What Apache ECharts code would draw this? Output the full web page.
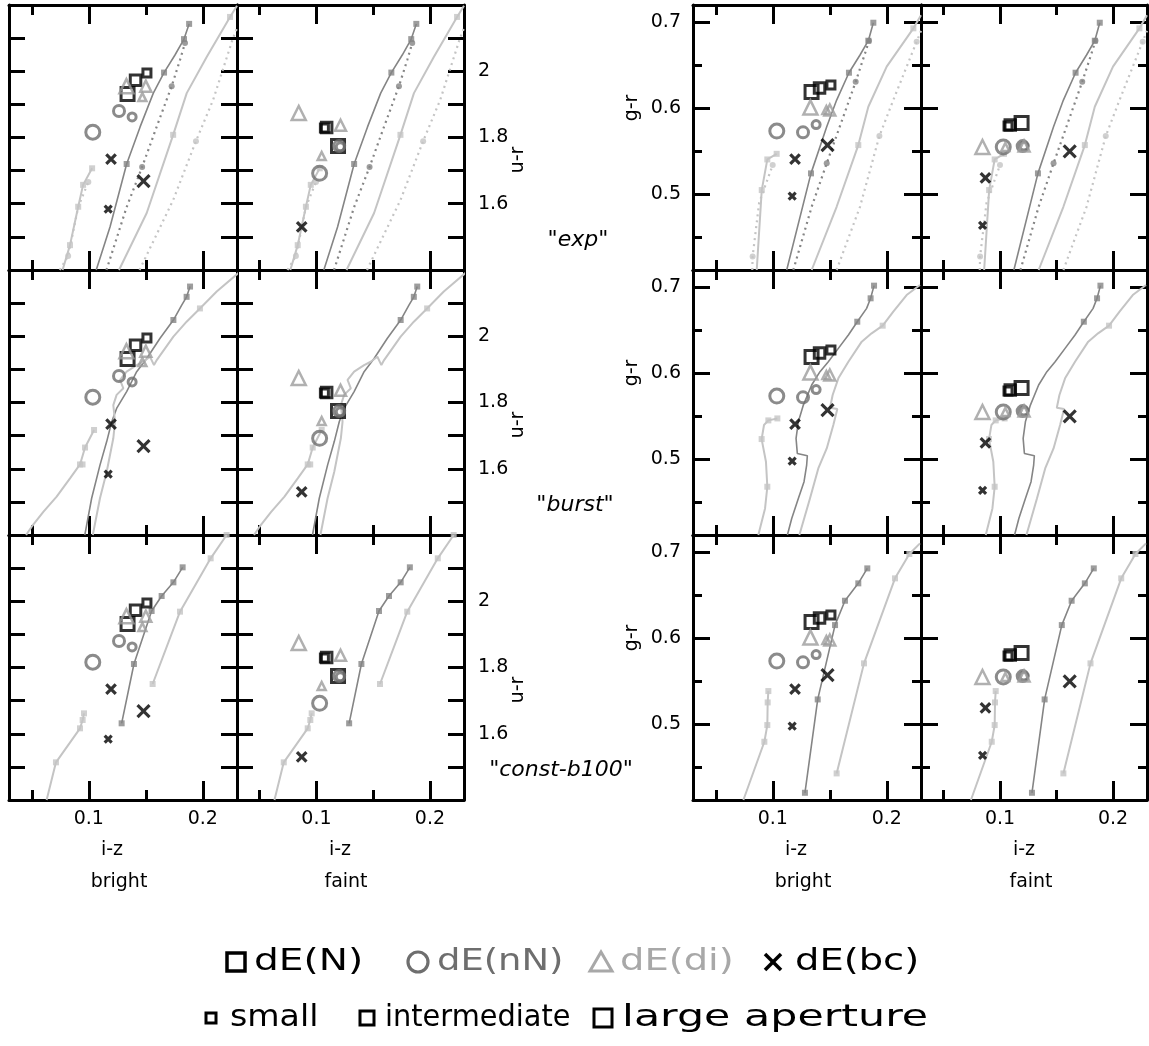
<!DOCTYPE html>
<html><head><meta charset="utf-8">
<script src="https://cdn.jsdelivr.net/npm/echarts@6/dist/echarts.min.js"></script>
<style>html,body{margin:0;padding:0;background:#fff}#c{width:1149px;height:1046px}</style>
</head><body><div id="c"></div>
<script>
// ---------- axes / labels ----------
const xRange = [0.03, 0.23];
const urRange = [1.4, 2.2];
const grRange = [0.412, 0.72];
const xTickMajor = [0.1, 0.2];
const xTickMinor = [0.05, 0.15];
const urTicks = [1.5, 1.6, 1.7, 1.8, 1.9, 2.0, 2.1];
const urLabels = [1.6, 1.8, 2.0];
const grTickMajor = [0.5, 0.6, 0.7];
const grTickMinor = [0.45, 0.55, 0.65];
const modelNames = ['"exp"', '"burst"', '"const-b100"'];
const sampleNames = ['bright', 'faint', 'bright', 'faint'];
const legendGroups = ['dE(N)', 'dE(nN)', 'dE(di)', 'dE(bc)'];
const apertureNames = ['small', 'intermediate', 'large aperture'];

// ---------- galaxies (order: small, intermediate, large aperture) ----------
const brightN_iz = [0.151, 0.141, 0.134];
const brightN_ur = [1.995, 1.973, 1.931];
const brightN_gr = [0.627, 0.6235, 0.619];
const brightNN_iz = [0.138, 0.1265, 0.1035];
const brightNN_ur = [1.862, 1.880, 1.816];
const brightNN_gr = [0.581, 0.572, 0.5735];
const brightDI_iz = [0.147, 0.150, 0.133];
const brightDI_ur = [1.922, 1.955, 1.955];
const brightDI_gr = [0.598, 0.598, 0.601];
const brightBC_iz = [0.117, 0.1195, 0.148];
const brightBC_ur = [1.584, 1.735, 1.668];
const brightBC_gr = [0.498, 0.541, 0.557];

const faintN_iz = [0.107, 0.109, 0.119];
const faintN_ur = [1.829, 1.830, 1.774];
const faintN_gr = [0.5795, 0.5805, 0.5828];
const faintNN_iz = [0.121, 0.120, 0.1028];
const faintNN_ur = [1.772, 1.774, 1.692];
const faintNN_gr = [0.556, 0.556, 0.555];
const faintDI_iz = [0.1046, 0.1212, 0.0844];
const faintDI_ur = [1.744, 1.837, 1.874];
const faintDI_gr = [0.555, 0.556, 0.555];
const faintBC_iz = [0.0845, 0.087, 0.1616];
const faintBC_ur = [null, 1.53, null];
const faintBC_gr = [0.464, 0.519, 0.550];

// ---------- model tracks: "exp" ----------
const expUR_DS = [[0.1065,1.40],[0.1186,1.530],[0.1332,1.720],[0.145,1.832],[0.1566,1.934],[0.166,1.996],[0.1756,2.049],[0.1835,2.097],[0.188,2.143]];
const expUR_DSm = [[0.1332,1.720],[0.166,1.996],[0.1835,2.097],[0.188,2.143]];
const expUR_DD = [[0.1155,1.40],[0.1332,1.590],[0.1468,1.711],[0.1595,1.832],[0.1727,1.955],[0.18,2.034],[0.1844,2.085]];
const expUR_DDm = [[0.1468,1.711],[0.1727,1.955],[0.1844,2.085]];
const expUR_LS = [[0.1265,1.40],[0.1508,1.572],[0.174,1.808],[0.1859,1.934],[0.2034,2.043],[0.2239,2.164],[0.23,2.198]];
const expUR_LSm = [[0.174,1.808],[0.2239,2.164]];
const expUR_LD = [[0.1445,1.40],[0.174,1.611],[0.194,1.789],[0.209,1.913],[0.2265,2.10],[0.23,2.13]];
const expUR_LDm = [[0.194,1.789]];
const expUR_LL = [[0.077,1.40],[0.0835,1.475],[0.0907,1.591],[0.095,1.657],[0.1029,1.707]];
const expUR_LLm = [[0.0835,1.475],[0.0907,1.591],[0.095,1.657],[0.1029,1.707]];
const expUR_LLD = [[0.0745,1.40],[0.0819,1.442],[0.0907,1.59],[0.0996,1.666]];
const expUR_LLDm = [[0.0819,1.442],[0.0996,1.666]];

const expGR_DS = [[0.1122,0.412],[0.1335,0.5243],[0.1473,0.5785],[0.156,0.6095],[0.1668,0.6413],[0.1765,0.6619],[0.1838,0.6785],[0.1882,0.6994]];
const expGR_DSm = [[0.1335,0.5243],[0.1668,0.6413],[0.1838,0.6785],[0.1882,0.6994]];
const expGR_DD = [[0.118,0.412],[0.1341,0.4855],[0.1473,0.536],[0.1618,0.590],[0.1727,0.6308],[0.1809,0.6638],[0.1844,0.6785]];
const expGR_DDm = [[0.1473,0.536],[0.1727,0.6308],[0.1844,0.6785]];
const expGR_LS = [[0.1341,0.412],[0.156,0.4855],[0.175,0.5572],[0.1838,0.6017],[0.1999,0.6483],[0.2233,0.6929],[0.23,0.708]];
const expGR_LSm = [[0.175,0.5572],[0.2233,0.6929]];
const expGR_LD = [[0.156,0.412],[0.1765,0.4855],[0.1935,0.5677],[0.2057,0.6095],[0.2262,0.6774],[0.23,0.69]];
const expGR_LDm = [[0.1935,0.5677],[0.2262,0.6774]];
const expGR_LL = [[0.0859,0.412],[0.0903,0.5049],[0.0952,0.5405],[0.1034,0.547]];
const expGR_LLm = [[0.0903,0.5049],[0.0952,0.5405],[0.1034,0.547]];
const expGR_LLD = [[0.082,0.412],[0.0823,0.4277],[0.088,0.49],[0.0999,0.534]];
const expGR_LLDm = [[0.0823,0.4277],[0.0999,0.534]];

// ---------- model tracks: "burst" ----------
const burstUR_DS = [[0.0965,1.40],[0.1025,1.511],[0.1098,1.611],[0.1157,1.682],[0.1201,1.742],[0.1244,1.782],[0.1332,1.833],[0.142,1.893],[0.1508,1.933],[0.1625,1.994],[0.1742,2.049],[0.1815,2.094],[0.1858,2.119],[0.1888,2.150]];
const burstUR_DSm = [[0.1742,2.049],[0.1858,2.119],[0.1888,2.150]];
const burstUR_LS = [[0.1035,1.40],[0.1098,1.511],[0.1157,1.591],[0.1215,1.692],[0.123,1.742],[0.1215,1.792],[0.1244,1.823],[0.1303,1.843],[0.1274,1.868],[0.1332,1.893],[0.142,1.913],[0.1478,1.923],[0.1537,1.938],[0.1572,1.913],[0.1596,1.928],[0.1742,1.999],[0.1858,2.044],[0.1975,2.084],[0.2122,2.135],[0.2326,2.195]];
const burstUR_LSm = [[0.1975,2.084]];
const burstUR_LL = [[0.045,1.40],[0.0499,1.425],[0.0601,1.47],[0.0718,1.516],[0.0835,1.571],[0.0923,1.613],[0.0967,1.664],[0.1046,1.717]];
const burstUR_LLm = [[0.0923,1.613],[0.0945,1.613],[0.0967,1.664],[0.1046,1.717]];

const burstGR_DS = [[0.1128,0.412],[0.1166,0.4312],[0.1224,0.4545],[0.1274,0.4739],[0.1297,0.4933],[0.1303,0.5041],[0.1215,0.5068],[0.1204,0.5243],[0.1224,0.5436],[0.1268,0.563],[0.1341,0.5863],[0.1414,0.6018],[0.1487,0.6134],[0.1575,0.6289],[0.1663,0.6444],[0.1741,0.6599],[0.1823,0.6754],[0.1858,0.6871],[0.1888,0.7018]];
const burstGR_DSm = [[0.1741,0.6599],[0.1858,0.6871],[0.1888,0.7018]];
const burstGR_LS = [[0.1233,0.412],[0.1326,0.4545],[0.1399,0.4894],[0.1473,0.5126],[0.1531,0.5398],[0.1566,0.5584],[0.1502,0.5599],[0.1525,0.5747],[0.1575,0.5941],[0.1663,0.6134],[0.178,0.6367],[0.1867,0.6464],[0.1964,0.6553],[0.2057,0.6716],[0.2174,0.6909],[0.2291,0.7026]];
const burstGR_LSm = [[0.1964,0.6553]];
const burstGR_LL = [[0.0873,0.412],[0.0932,0.4429],[0.0952,0.4681],[0.094,0.4971],[0.0902,0.5235],[0.0923,0.5398],[0.0961,0.5452],[0.104,0.5475]];
const burstGR_LLm = [[0.0952,0.4681],[0.0902,0.5235],[0.0961,0.5452],[0.104,0.5475]];

// ---------- model tracks: "const-b100" ----------
const constUR_DS = [[0.1288,1.6315],[0.1396,1.8106],[0.1551,1.9706],[0.1639,2.0158],[0.1742,2.0571],[0.1823,2.1024]];
const constUR_DSm = [[0.1288,1.6315],[0.1396,1.8106],[0.1551,1.9706],[0.1639,2.0158],[0.1742,2.0571],[0.1823,2.1024]];
const constUR_LS = [[0.156,1.7502],[0.18,1.9686],[0.2069,2.1296],[0.2209,2.2]];
const constUR_LSm = [[0.156,1.7502],[0.18,1.9686],[0.2069,2.1296],[0.2209,2.2]];
const constUR_LL = [[0.063,1.40],[0.0712,1.5137],[0.0923,1.6164],[0.0946,1.6415],[0.0958,1.6616]];
const constUR_LLm = [[0.0712,1.5137],[0.0923,1.6164],[0.0946,1.6415],[0.0958,1.6616]];

const constGR_DS = [[0.1282,0.4204],[0.1394,0.5289],[0.1546,0.6153],[0.1633,0.6436],[0.175,0.6638],[0.1829,0.6812]];
const constGR_DSm = [[0.1282,0.4204],[0.1394,0.5289],[0.1546,0.6153],[0.1633,0.6436],[0.175,0.6638],[0.1829,0.6812]];
const constGR_LS = [[0.156,0.4429],[0.18,0.5708],[0.2072,0.6696],[0.2198,0.6979],[0.2291,0.7103]];
const constGR_LSm = [[0.156,0.4429],[0.18,0.5708],[0.2072,0.6696],[0.2198,0.6979]];
const constGR_LL = [[0.0742,0.412],[0.0926,0.4797],[0.0952,0.4991],[0.0955,0.5254],[0.0961,0.5386]];
const constGR_LLm = [[0.0926,0.4797],[0.0952,0.4991],[0.0955,0.5254],[0.0961,0.5386]];

// ---------- build ----------
const FONT = 'DejaVu Sans';
const tracks = {
  ur: [
    [[expUR_DS,expUR_DSm,'dS'],[expUR_DD,expUR_DDm,'dD'],[expUR_LS,expUR_LSm,'lS'],[expUR_LD,expUR_LDm,'lD'],[expUR_LL,expUR_LLm,'lS'],[expUR_LLD,expUR_LLDm,'lD']],
    [[burstUR_DS,burstUR_DSm,'dS'],[burstUR_LS,burstUR_LSm,'lS'],[burstUR_LL,burstUR_LLm,'lS']],
    [[constUR_DS,constUR_DSm,'dS'],[constUR_LS,constUR_LSm,'lS'],[constUR_LL,constUR_LLm,'lS']]
  ],
  gr: [
    [[expGR_DS,expGR_DSm,'dS'],[expGR_DD,expGR_DDm,'dD'],[expGR_LS,expGR_LSm,'lS'],[expGR_LD,expGR_LDm,'lD'],[expGR_LL,expGR_LLm,'lS'],[expGR_LLD,expGR_LLDm,'lD']],
    [[burstGR_DS,burstGR_DSm,'dS'],[burstGR_LS,burstGR_LSm,'lS'],[burstGR_LL,burstGR_LLm,'lS']],
    [[constGR_DS,constGR_DSm,'dS'],[constGR_LS,constGR_LSm,'lS'],[constGR_LL,constGR_LLm,'lS']]
  ]
};
const trackStyle = {
  dS: {color:'#858585', width:1.6, type:'solid', mark:'rect'},
  dD: {color:'#858585', width:2.2, type:[2,4], mark:'circle'},
  lS: {color:'#c4c4c4', width:2, type:'solid', mark:'rect'},
  lD: {color:'#c4c4c4', width:2.2, type:[2,4], mark:'circle'}
};
const CROSS = 'path://M0,0L10,10M10,0L0,10';
const groups = [
  {iz:[brightN_iz,faintN_iz], ur:[brightN_ur,faintN_ur], gr:[brightN_gr,faintN_gr], symbol:'rect', color:'#000', sizes:[8,10.5,13], bw:3},
  {iz:[brightNN_iz,faintNN_iz], ur:[brightNN_ur,faintNN_ur], gr:[brightNN_gr,faintNN_gr], symbol:'circle', color:'#6e6e6e', sizes:[8,11,14], bw:3},
  {iz:[brightDI_iz,faintDI_iz], ur:[brightDI_ur,faintDI_ur], gr:[brightDI_gr,faintDI_gr], symbol:'triangle', color:'#9c9c9c', sizes:[8,11,14], bw:2.5},
  {iz:[brightBC_iz,faintBC_iz], ur:[brightBC_ur,faintBC_ur], gr:[brightBC_gr,faintBC_gr], symbol:CROSS, color:'#000', sizes:[7,9.5,12], bw:3.2}
];

const colLeft = [9, 237, 693, 921];
const colW = [228, 227, 228, 226];
const rowTop = [5, 270, 535];
const H = 265;

const grids = [], xAxes = [], yAxes = [], series = [];
const tickStyle = {color:'#000', width:3};
const lineOn = {show:true, onZero:false, lineStyle:{color:'#000', width:3}};
const lineOff = {show:false, onZero:false};
const fmt = v => String(+(+v).toFixed(2));

for (let r = 0; r < 3; r++) {
  for (let c = 0; c < 4; c++) {
    const g = grids.length;
    grids.push({left: colLeft[c], top: rowTop[r], width: colW[c], height: H, containLabel:false});
    const base = {gridIndex:g, type:'value', min:xRange[0], max:xRange[1], splitLine:{show:false}, axisPointer:{show:false}};
    const xMain = xAxes.length;
    xAxes.push({...base, position:'bottom', axisLine:lineOn,
      axisTick:{show:true, inside:true, length:19, customValues:xTickMajor, lineStyle:tickStyle},
      axisLabel:{show: r === 2, customValues:xTickMajor, formatter:fmt, fontSize:19, fontFamily:FONT, color:'#000', margin:10}});
    xAxes.push({...base, position:'bottom', axisLine:lineOff,
      axisTick:{show:true, inside:true, length:10, customValues:xTickMinor, lineStyle:tickStyle}, axisLabel:{show:false}});
    xAxes.push({...base, position:'top', axisLine:lineOn,
      axisTick:{show:true, inside:true, length:19, customValues:xTickMajor, lineStyle:tickStyle}, axisLabel:{show:false}});
    xAxes.push({...base, position:'top', axisLine:lineOff,
      axisTick:{show:true, inside:true, length:10, customValues:xTickMinor, lineStyle:tickStyle}, axisLabel:{show:false}});

    const isUR = c < 2;
    const yr = isUR ? urRange : grRange;
    const yb = {gridIndex:g, type:'value', min:yr[0], max:yr[1], splitLine:{show:false}, axisPointer:{show:false}};
    const yMain = yAxes.length;
    if (isUR) {
      yAxes.push({...yb, position:'left', axisLine:lineOn,
        axisTick:{show:true, inside:true, length:16, customValues:urTicks, lineStyle:tickStyle}, axisLabel:{show:false}});
      yAxes.push({...yb, position:'right', axisLine:lineOn,
        axisTick:{show:true, inside:true, length:16, customValues:urTicks, lineStyle:tickStyle},
        axisLabel:{show: c === 1, customValues:urLabels, formatter:fmt, fontSize:19, fontFamily:FONT, color:'#000', margin:14}});
    } else {
      yAxes.push({...yb, position:'left', axisLine:lineOn,
        axisTick:{show:true, inside:true, length:17, customValues:grTickMajor, lineStyle:tickStyle},
        axisLabel:{show: c === 2, customValues:grTickMajor, formatter:fmt, fontSize:19, fontFamily:FONT, color:'#000', margin:12}});
      yAxes.push({...yb, position:'left', axisLine:lineOff,
        axisTick:{show:true, inside:true, length:9, customValues:grTickMinor, lineStyle:tickStyle}, axisLabel:{show:false}});
      yAxes.push({...yb, position:'right', axisLine:lineOn,
        axisTick:{show:true, inside:true, length:17, customValues:grTickMajor, lineStyle:tickStyle}, axisLabel:{show:false}});
      yAxes.push({...yb, position:'right', axisLine:lineOff,
        axisTick:{show:true, inside:true, length:9, customValues:grTickMinor, lineStyle:tickStyle}, axisLabel:{show:false}});
    }

    // model tracks
    const tk = tracks[isUR ? 'ur' : 'gr'][r];
    tk.forEach(([ln, mk, sk]) => {
      const st = trackStyle[sk];
      series.push({type:'line', xAxisIndex:xMain, yAxisIndex:yMain, data:ln, showSymbol:false, symbol:'none',
        lineStyle:{color:st.color, width:st.width, type:st.type}, z:2, silent:true, animation:false, clip:true});
      series.push({type:'scatter', xAxisIndex:xMain, yAxisIndex:yMain, data:mk, symbol:st.mark, symbolSize:6,
        itemStyle:{color:st.color}, z:3, silent:true, animation:false, clip:true});
    });

    // galaxies
    const bf = c % 2;
    groups.forEach((gr, gi) => {
      const xs = gr.iz[bf], ys = (isUR ? gr.ur : gr.gr)[bf];
      const data = [];
      xs.forEach((x, i) => { if (ys[i] != null) data.push({value:[x, ys[i]], symbolSize: gr.sizes[i]}); });
      series.push({type:'scatter', xAxisIndex:xMain, yAxisIndex:yMain, data, symbol:gr.symbol,
        itemStyle:{color:'rgba(0,0,0,0)', borderColor:gr.color, borderWidth:gr.bw},
        z:5 + gi, silent:true, animation:false, clip:true});
    });
  }
}

// ---------- text & legend ----------
function txt(text, x, y, opt) {
  opt = opt || {};
  return {type:'text', x, y, rotation: opt.rot || 0, scaleX: opt.sx || 1, z: 50,
    style:{text, font: opt.font || ('19px ' + FONT), fill: opt.fill || '#000',
      align: opt.align || 'center', verticalAlign:'middle', textAlign: opt.align || 'center', textVerticalAlign:'middle'}};
}
const graphic = [];
const izX = [112, 340, 796, 1024];
const sampX = [119, 346, 803, 1031];
for (let c = 0; c < 4; c++) {
  graphic.push(txt('i-z', izX[c], 850));
  graphic.push(txt(sampleNames[c], sampX[c], 882));
}
const modelY = [240, 505, 770];
const modelX = [578, 575, 561];
for (let r = 0; r < 3; r++) {
  graphic.push(txt('u-r', 518, rowTop[r] + 155, {rot: Math.PI / 2}));
  graphic.push(txt('g-r', 632, rowTop[r] + 103, {rot: Math.PI / 2}));
  graphic.push(txt(modelNames[r], modelX[r], modelY[r], {font: 'italic 22px ' + FONT}));
}
// legend row 1
const LF = '31px ' + FONT;
graphic.push({type:'rect', shape:{x:227, y:953, width:18, height:18}, style:{fill:'none', stroke:'#000', lineWidth:3.5}, z:50});
graphic.push(txt(legendGroups[0], 254, 962, {font:LF, align:'left', sx:1.26}));
graphic.push({type:'circle', shape:{cx:418, cy:962, r:10}, style:{fill:'none', stroke:'#6e6e6e', lineWidth:3.2}, z:50});
graphic.push(txt(legendGroups[1], 437, 962, {font:LF, align:'left', fill:'#6e6e6e', sx:1.19}));
graphic.push({type:'polygon', shape:{points:[[590,971],[612,971],[601,952]]}, style:{fill:'none', stroke:'#a8a8a8', lineWidth:3}, z:50});
graphic.push(txt(legendGroups[2], 620, 962, {font:LF, align:'left', fill:'#a8a8a8', sx:1.24}));
graphic.push({type:'polyline', shape:{points:[[765,954],[781,970]]}, style:{stroke:'#000', lineWidth:3.5}, z:50});
graphic.push({type:'polyline', shape:{points:[[781,954],[765,970]]}, style:{stroke:'#000', lineWidth:3.5}, z:50});
graphic.push(txt(legendGroups[3], 795, 962, {font:LF, align:'left', sx:1.24}));
// legend row 2
graphic.push({type:'rect', shape:{x:206, y:1013, width:10, height:10}, style:{fill:'none', stroke:'#000', lineWidth:3}, z:50});
graphic.push(txt(apertureNames[0], 230, 1018, {font:LF, align:'left', sx:1.07}));
graphic.push({type:'rect', shape:{x:360, y:1011, width:14, height:14}, style:{fill:'none', stroke:'#000', lineWidth:3}, z:50});
graphic.push(txt(apertureNames[1], 385, 1018, {font:LF, align:'left', sx:0.93}));
graphic.push({type:'rect', shape:{x:594, y:1009, width:18, height:18}, style:{fill:'none', stroke:'#000', lineWidth:3}, z:50});
graphic.push(txt(apertureNames[2], 622, 1018, {font:LF, align:'left', sx:1.38}));

const chart = echarts.init(document.getElementById('c'), null, {renderer:'canvas'});
chart.setOption({
  animation:false,
  backgroundColor:'#fff',
  textStyle:{fontFamily:FONT},
  grid:grids, xAxis:xAxes, yAxis:yAxes, series, graphic
});
</script></body></html>
